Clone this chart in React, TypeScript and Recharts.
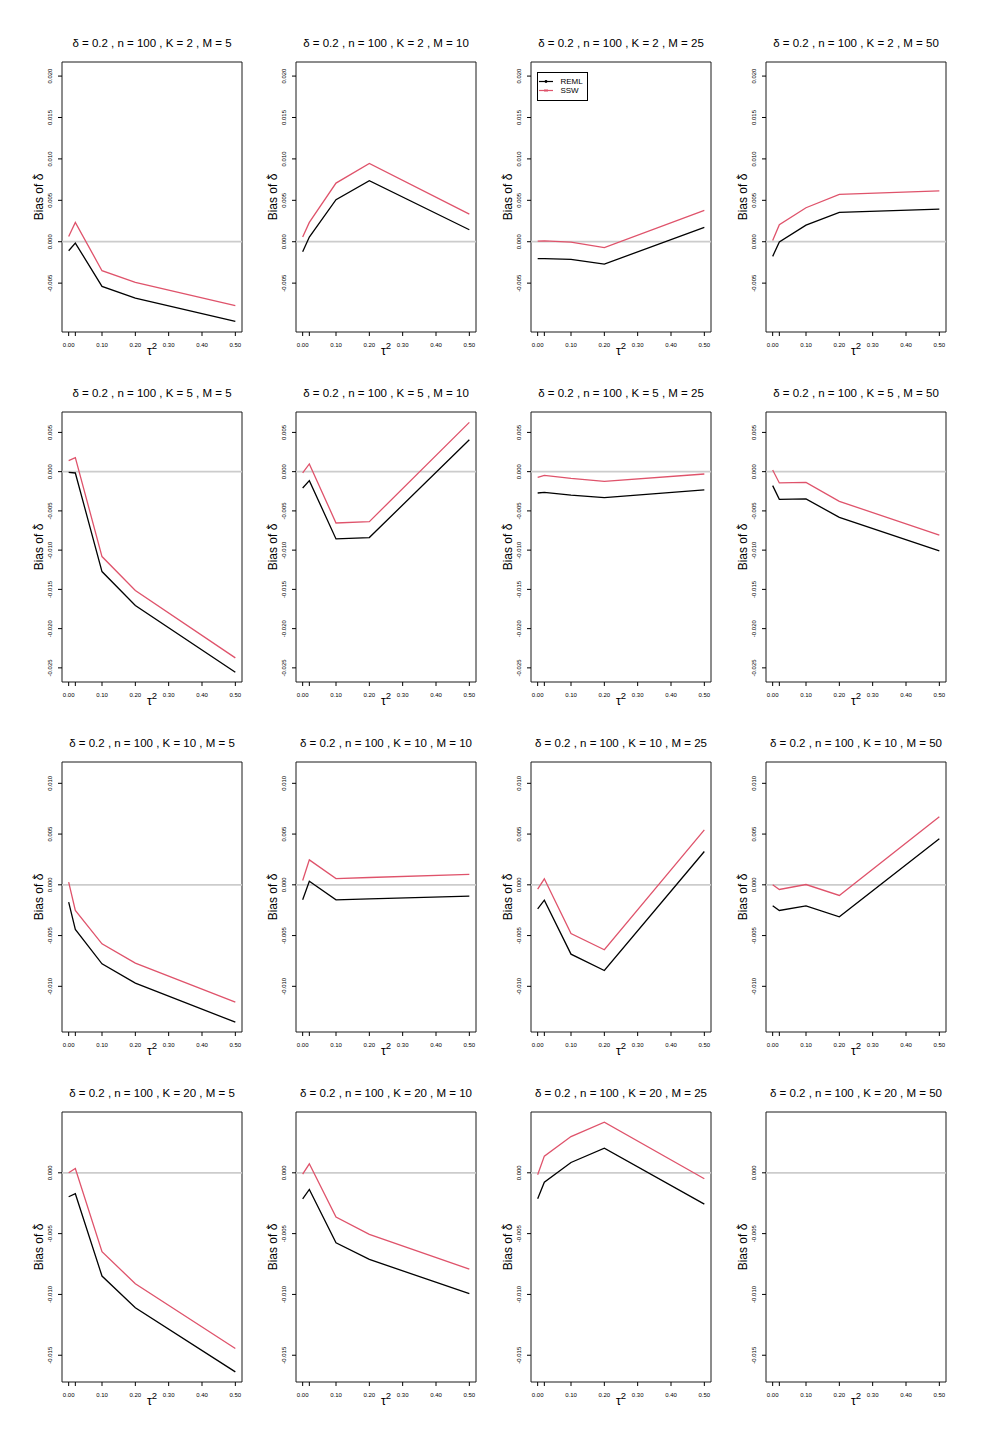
import {
  LineChart,
  Line,
  XAxis,
  YAxis,
  ReferenceLine,
  ReferenceArea,
  Legend,
} from "recharts";

// tau^2 grid used in every panel
const TAU = [0, 0.02, 0.1, 0.2, 0.5];
const K_VALUES = [2, 5, 10, 20];
const M_VALUES = [5, 10, 25, 50];
const SERIES_NAMES = ["REML", "SSW"];

// bias values, one inner array per M (5, 10, 25, 50)
const REML_K2 = [
  [-0.00109, -0.00016, -0.00539, -0.0068, -0.00961],
  [-0.0012, 0.00056, 0.00507, 0.00736, 0.00145],
  [-0.00205, -0.00205, -0.00213, -0.0027, 0.00173],
  [-0.00177, -0.00004, 0.00201, 0.00354, 0.00394],
];
const SSW_K2 = [
  [0.00064, 0.00233, -0.0035, -0.0049, -0.00772],
  [0.00056, 0.00233, 0.00708, 0.00945, 0.00334],
  [0.00008, 0.0001, -0.00004, -0.00072, 0.00378],
  [0.00016, 0.00205, 0.0041, 0.00571, 0.00615],
];
const REML_K5 = [
  [-0.0001, -0.00017, -0.01273, -0.01706, -0.02555],
  [-0.00208, -0.00115, -0.00857, -0.0084, 0.00407],
  [-0.00272, -0.00263, -0.003, -0.00331, -0.00233],
  [-0.00178, -0.00352, -0.00348, -0.00582, -0.0101],
];
const SSW_K5 = [
  [0.0014, 0.00178, -0.01082, -0.01515, -0.02373],
  [-0.00017, 0.00098, -0.00654, -0.00637, 0.00628],
  [-0.00072, -0.00047, -0.00085, -0.00123, -0.0003],
  [0.00021, -0.00144, -0.00136, -0.00378, -0.0081],
];
const REML_K10 = [
  [-0.00171, -0.0044, -0.00778, -0.00969, -0.01353],
  [-0.00148, 0.00036, -0.00148, -0.00138, -0.00112],
  [-0.00236, -0.00151, -0.00683, -0.00844, 0.00328],
  [-0.00207, -0.00253, -0.00207, -0.00315, 0.00453],
];
const SSW_K10 = [
  [0.00026, -0.00253, -0.00581, -0.00772, -0.01156],
  [0.00043, 0.00246, 0.00062, 0.00072, 0.00102],
  [-0.00043, 0.00059, -0.0048, -0.0064, 0.00542],
  [0, -0.00046, 0.00003, -0.00105, 0.0067],
];
const REML_K20 = [
  [-0.00197, -0.00172, -0.00849, -0.01109, -0.01637],
  [-0.00214, -0.00137, -0.00575, -0.00712, -0.00994],
  [-0.00214, -0.00077, 0.00085, 0.00203, -0.00257],
  null,
];
const SSW_K20 = [
  [0, 0.00036, -0.00649, -0.00912, -0.01445],
  [-0.00011, 0.00074, -0.00364, -0.00506, -0.00791],
  [-0.00016, 0.00137, 0.00298, 0.00416, -0.00049],
  null,
];

const REML = [REML_K2, REML_K5, REML_K10, REML_K20];
const SSW = [SSW_K2, SSW_K5, SSW_K10, SSW_K20];

const X_TICKS = [0, 0.02, 0.1, 0.2, 0.3, 0.4, 0.5];
const Y_TICKS = [
  [-0.005, 0, 0.005, 0.01, 0.015, 0.02],
  [-0.025, -0.02, -0.015, -0.01, -0.005, 0, 0.005],
  [-0.01, -0.005, 0, 0.005, 0.01],
  [-0.015, -0.01, -0.005, 0],
];
const Y_DOMAINS = [
  [-0.0109, 0.0217],
  [-0.0268, 0.0076],
  [-0.0145, 0.0121],
  [-0.0172, 0.005],
];

const FONT = '"Liberation Sans", Arial, Helvetica, sans-serif';
const RED = "#DF536B";
const BOX_LEFT = [62, 296, 531, 766];
const BOX_TOP = [62, 412, 762, 1112];
const BOX_W = 180;
const BOX_H = 270;
const PAD_L = 50;
const PAD_T = 50;
const PAD_B = 30;
const PAD_R = 4;

const XTick = (props: any) => {
  const { x, y, payload } = props;
  if (Math.abs(payload.value - 0.02) < 1e-9) return <g />;
  return (
    <text x={x} y={y + 8.7} textAnchor="middle" fontSize={6} fontFamily={FONT} fill="#000">
      {payload.value.toFixed(2)}
    </text>
  );
};

const YTick = (props: any) => {
  const { x, y, payload } = props;
  const bx = x - 4;
  return (
    <text
      x={bx}
      y={y}
      transform={`rotate(-90, ${bx}, ${y})`}
      textAnchor="middle"
      fontSize={6}
      fontFamily={FONT}
      fill="#000"
    >
      {payload.value.toFixed(3)}
    </text>
  );
};

const YLabel = () => {
  const cx = 31;
  const cy = PAD_T + BOX_H / 2;
  return (
    <text
      x={cx}
      y={cy}
      transform={`rotate(-90, ${cx}, ${cy})`}
      textAnchor="middle"
      fontSize={12}
      fontFamily={FONT}
      fill="#000"
    >
      Bias of δ
      <tspan dx={-5.5} dy={-6} fontSize={8}>
        ^
      </tspan>
    </text>
  );
};

const XLabel = () => (
  <text x={PAD_L + BOX_W / 2} y={343} textAnchor="middle" fontSize={12.5} fontFamily={FONT} fill="#000">
    τ
    <tspan dy={-6} fontSize={9.5}>
      2
    </tspan>
  </text>
);

const LegendBox = () => (
  <div
    style={{
      width: 49,
      height: 27,
      border: "1px solid #000",
      background: "#fff",
      fontFamily: FONT,
      fontSize: 8,
      position: "relative",
    }}
  >
    {SERIES_NAMES.map((name, i) => {
      const color = i === 0 ? "#000" : RED;
      return (
        <div
          key={name}
          style={{
            position: "absolute",
            left: 0,
            top: 4 + i * 9,
            height: 9,
            display: "flex",
            alignItems: "center",
            lineHeight: "9px",
          }}
        >
          <svg width={20} height={9}>
            <line x1={1} x2={15} y1={4.5} y2={4.5} stroke={color} strokeWidth={1.2} />
            {i === 0 ? (
              <circle cx={8} cy={4.5} r={1.4} fill={color} />
            ) : (
              <g stroke={color} strokeWidth={1}>
                <line x1={6.5} x2={9.5} y1={3} y2={6} />
                <line x1={6.5} x2={9.5} y1={6} y2={3} />
              </g>
            )}
          </svg>
          <span style={{ marginLeft: 2.4 }}>{name}</span>
        </div>
      );
    })}
  </div>
);

function Panel({ row, col }: { row: number; col: number }) {
  const reml = REML[row][col];
  const ssw = SSW[row][col];
  const data = TAU.map((t, i) => ({
    tau: t,
    reml: reml ? reml[i] : null,
    ssw: ssw ? ssw[i] : null,
  }));
  const [lo, hi] = Y_DOMAINS[row];

  return (
    <div
      style={{
        position: "absolute",
        left: BOX_LEFT[col] - PAD_L,
        top: BOX_TOP[row] - PAD_T,
        width: PAD_L + BOX_W + PAD_R,
        height: PAD_T + BOX_H + PAD_B,
      }}
    >
      <div
        style={{
          position: "absolute",
          left: PAD_L - 20,
          top: PAD_T - 26,
          width: BOX_W + 40,
          height: 14,
          lineHeight: "14px",
          textAlign: "center",
          fontSize: 11.5,
          fontFamily: FONT,
          whiteSpace: "nowrap",
        }}
      >
        {`δ = 0.2 , n = 100 , K = ${K_VALUES[row]} , M = ${M_VALUES[col]}`}
      </div>
      <LineChart
        width={PAD_L + BOX_W + PAD_R}
        height={PAD_T + BOX_H + PAD_B}
        data={data}
        margin={{ top: PAD_T, right: PAD_R, bottom: 0, left: 0 }}
      >
        <XAxis
          dataKey="tau"
          type="number"
          domain={[-0.02, 0.52]}
          ticks={X_TICKS}
          interval={0}
          allowDataOverflow
          axisLine={false}
          tickLine={{ stroke: "#000" }}
          tickSize={4}
          tickMargin={2}
          tick={XTick}
          height={PAD_B}
          label={{ content: XLabel }}
        />
        <YAxis
          type="number"
          domain={[lo, hi]}
          ticks={Y_TICKS[row]}
          interval={0}
          allowDataOverflow
          axisLine={false}
          tickLine={{ stroke: "#000" }}
          tickSize={4}
          tickMargin={2}
          tick={YTick}
          width={PAD_L}
          label={{ content: YLabel }}
        />
        <ReferenceLine y={0} stroke="#CCCCCC" strokeWidth={1.8} />
        <ReferenceArea
          x1={-0.02}
          x2={0.52}
          y1={lo}
          y2={hi}
          fill="none"
          stroke="#1a1a1a"
          strokeWidth={1}
          ifOverflow="visible"
        />
        <Line
          dataKey="reml"
          name="REML"
          type="linear"
          stroke="#000"
          strokeWidth={1.3}
          dot={false}
          isAnimationActive={false}
        />
        <Line
          dataKey="ssw"
          name="SSW"
          type="linear"
          stroke={RED}
          strokeWidth={1.3}
          dot={false}
          isAnimationActive={false}
        />
        {row === 0 && col === 2 && (
          <Legend
            layout="horizontal"
            verticalAlign="middle"
            align="center"
            content={LegendBox}
            wrapperStyle={{ left: 56, top: 60, width: 51, height: 29 }}
          />
        )}
      </LineChart>
    </div>
  );
}

export default function App() {
  return (
    <div
      style={{
        position: "absolute",
        left: 0,
        top: 0,
        width: 990,
        height: 1452,
        background: "#fff",
      }}
    >
      {K_VALUES.map((_, r) =>
        M_VALUES.map((_, c) => <Panel key={`${r}-${c}`} row={r} col={c} />)
      )}
    </div>
  );
}
